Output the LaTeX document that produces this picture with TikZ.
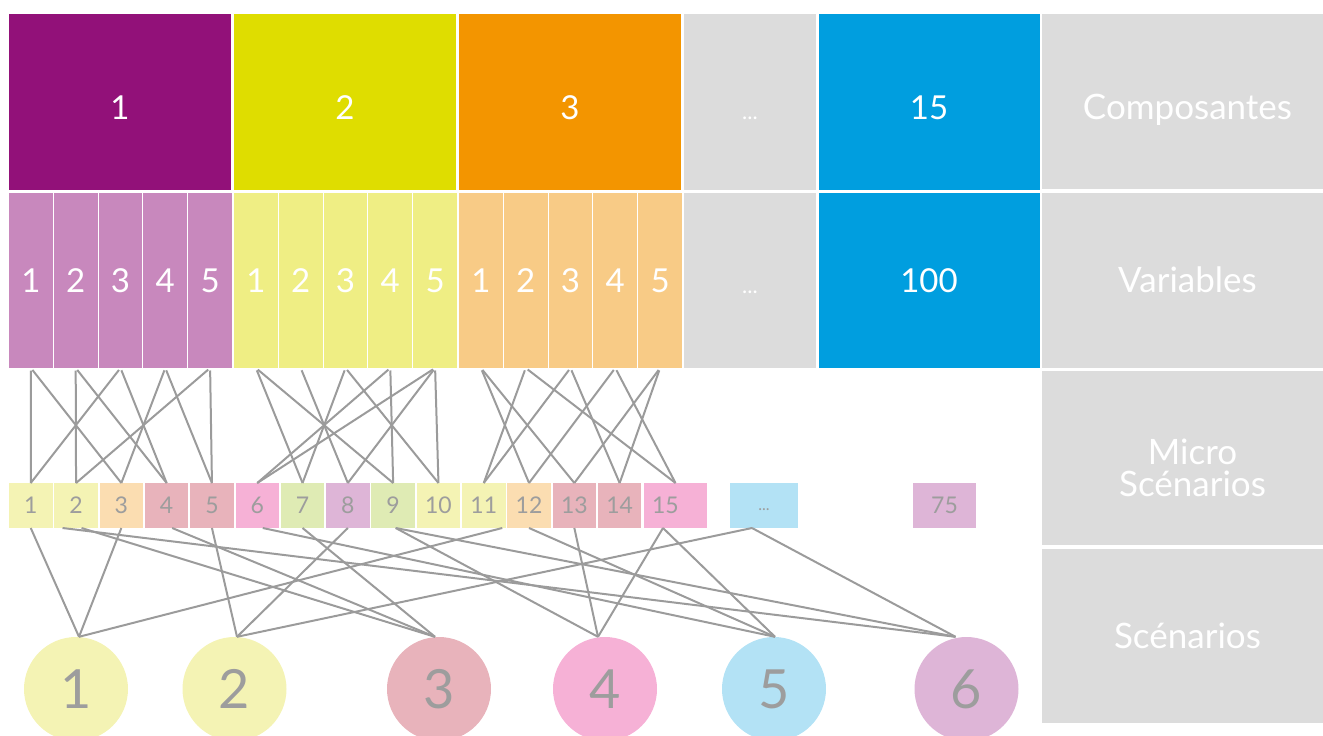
\documentclass[tikz,border=0pt]{standalone}
\usepackage{fontspec}
\setmainfont{Lato}
\usetikzlibrary{calc}
\newcommand\mydrop[2]{\raisebox{-#1}[\height][\depth]{#2}}
\definecolor{cPurple}{HTML}{921179}
\definecolor{cYellow}{HTML}{DFDD00}
\definecolor{cOrange}{HTML}{F39500}
\definecolor{cBlue}{HTML}{009EDF}
\definecolor{cGray}{HTML}{DCDCDC}
\definecolor{vPurple}{HTML}{C888BD}
\definecolor{vYellow}{HTML}{EFEE84}
\definecolor{vOrange}{HTML}{F8CB86}
\definecolor{mYellow}{HTML}{F4F3B4}
\definecolor{mPeach}{HTML}{FBDDB1}
\definecolor{mRose}{HTML}{E8B3BB}
\definecolor{mPink}{HTML}{F6B1D6}
\definecolor{mGreen}{HTML}{DFEBB4}
\definecolor{mLilac}{HTML}{DEB5D7}
\definecolor{mBlue}{HTML}{B3E2F5}
\definecolor{lineGray}{HTML}{9B9B9B}
\definecolor{numGray}{HTML}{9D9D9D}
\begin{document}
\begin{tikzpicture}[x=1pt,y=-1pt,
  box/.style={anchor=north west, inner sep=0pt, outer sep=0pt, text=white},
  bigtxt/.style={font=\fontsize{33}{33}\selectfont},
  labtxt/.style={font=\fontsize{35}{32}\selectfont, align=center},
  dotstxt/.style={font=\fontsize{22}{22}\selectfont},
  micro/.style={box, minimum height=45pt, text=numGray, font=\fontsize{23}{23}\selectfont},
  scen/.style={circle, inner sep=0pt, minimum size=104pt, text=numGray, font=\fontsize{54}{54}\selectfont},
  link/.style={draw=lineGray, line width=2pt},
  uplink/.style={link, shorten <=2.5pt}]
\useasboundingbox (0,0) rectangle (1323,736);
% components row
\node[box, bigtxt, fill=cPurple, minimum width=222pt, minimum height=176pt] (c1) at (9,14) {\mydrop{6pt}{1}};
\node[box, bigtxt, fill=cYellow, minimum width=222pt, minimum height=176pt] (c2) at (234,14) {\mydrop{6pt}{2}};
\node[box, bigtxt, fill=cOrange, minimum width=222pt, minimum height=176pt] (c3) at (459,14) {\mydrop{6pt}{3}};
\node[box, dotstxt, fill=cGray, minimum width=132pt, minimum height=176pt] (cdots) at (684,14) {\mydrop{16pt}{...}};
\node[box, bigtxt, fill=cBlue, minimum width=221pt, minimum height=176pt] (c15) at (818.5,14) {\mydrop{6pt}{15}};
\node[box, labtxt, fill=cGray, minimum width=281pt, minimum height=175pt] (lcomp) at (1042,14) {\hspace*{10pt}\mydrop{8pt}{Composantes}};
% variables row
\foreach \g/\col in {0/vPurple,1/vYellow,2/vOrange}{
  \foreach \j in {1,...,5}{
    \pgfmathsetmacro\xx{9+225*\g+44.8*(\j-1)}
    \pgfmathtruncatemacro\id{5*\g+\j}
    \node[box, bigtxt, fill=\col, minimum width=43.8pt, minimum height=175pt] (v\id) at (\xx,193) {\j};
  }
}
\node[box, dotstxt, fill=cGray, minimum width=132pt, minimum height=175pt] (vdots) at (684,193) {\mydrop{12pt}{...}};
\node[box, bigtxt, fill=cBlue, minimum width=221pt, minimum height=175pt] (v100) at (818.5,193) {100};
\node[box, labtxt, fill=cGray, minimum width=281pt, minimum height=175pt] (lvar) at (1042,192.5) {\hspace*{10pt}Variables};
\node[box, labtxt, fill=cGray, minimum width=281pt, minimum height=174pt] (lmicro) at (1042,371) {\hspace*{20pt}\mydrop{10pt}{Micro}\\\hspace*{20pt}\mydrop{10pt}{Scénarios}};
\node[box, labtxt, fill=cGray, minimum width=281pt, minimum height=174pt] (lscen) at (1042,549) {\hspace*{10pt}Scénarios};
% micro scenarios
\foreach \i/\col in {1/mYellow,2/mYellow,3/mPeach,4/mRose,5/mRose,6/mPink,7/mGreen,8/mLilac,9/mGreen,10/mYellow,11/mYellow,12/mPeach,13/mRose,14/mRose}{
  \pgfmathsetmacro\xx{9+45.3*(\i-1)}
  \node[micro, fill=\col, minimum width=43.5pt] (m\i) at (\xx,483) {\i};
}
\node[micro, fill=mPink, minimum width=63pt, text width=63pt, align=left] (m15) at (644,483) {\hspace*{8pt}15};
\node[micro, fill=mBlue, minimum width=68pt, font=\fontsize{16}{16}\selectfont] (mdots) at (730,483) {\mydrop{4pt}{...}};
\node[micro, fill=mLilac, minimum width=63pt] (m75) at (913,483) {75};
% scenarios
\node[scen, fill=mYellow] (s1) at (76,689) {1};
\node[scen, fill=mYellow] (s2) at (234.5,689) {2};
\node[scen, fill=mRose] (s3) at (439,689) {3};
\node[scen, fill=mPink] (s4) at (605,689) {4};
\node[scen, fill=mBlue] (s5) at (774,689) {5};
\node[scen, fill=mLilac] (s6) at (966.5,689) {6};
% variables -> micro scenarios
\foreach \a/\b in {1/1,1/3,2/2,2/4,3/1,3/4,4/3,4/5,5/2,5/5,
                   6/7,6/9,7/8,8/7,8/10,9/9,9/6,10/10,10/6,10/8,
                   11/12,11/13,12/11,12/15,13/11,13/14,14/12,14/15,15/13,15/14}{
  \draw[uplink] (v\a.south) -- (m\b.north);
}
% micro scenarios -> scenarios
\draw[link] (m1.south) -- ([xshift=3pt]s1.north);
\draw[link] (m3.south) -- ([xshift=3pt]s1.north);
\draw[link] ([xshift=18.5pt]m11.south) -- ([xshift=3pt]s1.north);
\draw[link] (m5.south) -- ([xshift=2.5pt]s2.north);
\draw[link] (m8.south) -- ([xshift=2.5pt]s2.north);
\draw[link] ([xshift=-12pt]mdots.south) -- ([xshift=2.5pt]s2.north);
\draw[link] ([xshift=5.5pt]m2.south) -- ([xshift=-4pt]s3.north);
\draw[link] ([xshift=5.5pt]m4.south) -- ([xshift=-4pt]s3.north);
\draw[link] (m7.south) -- ([xshift=-4pt]s3.north);
\draw[link] ([xshift=2.5pt]m9.south) -- ([xshift=-7pt]s4.north);
\draw[link] (m13.south) -- ([xshift=-7pt]s4.north);
\draw[link] ([xshift=-12.5pt]m15.south) -- ([xshift=-7pt]s4.north);
\draw[link] ([xshift=5.5pt]m6.south) -- ([xshift=1pt]s5.north);
\draw[link] (m12.south) -- ([xshift=1pt]s5.north);
\draw[link] ([xshift=-12.5pt]m15.south) -- ([xshift=1pt]s5.north);
\draw[link] ([xshift=-13.5pt]m2.south) -- ([xshift=-11pt]s6.north);
\draw[link] ([xshift=2.5pt]m9.south) -- ([xshift=-11pt]s6.north);
\draw[link] ([xshift=-12pt]mdots.south) -- ([xshift=-11pt]s6.north);
\end{tikzpicture}
\end{document}
